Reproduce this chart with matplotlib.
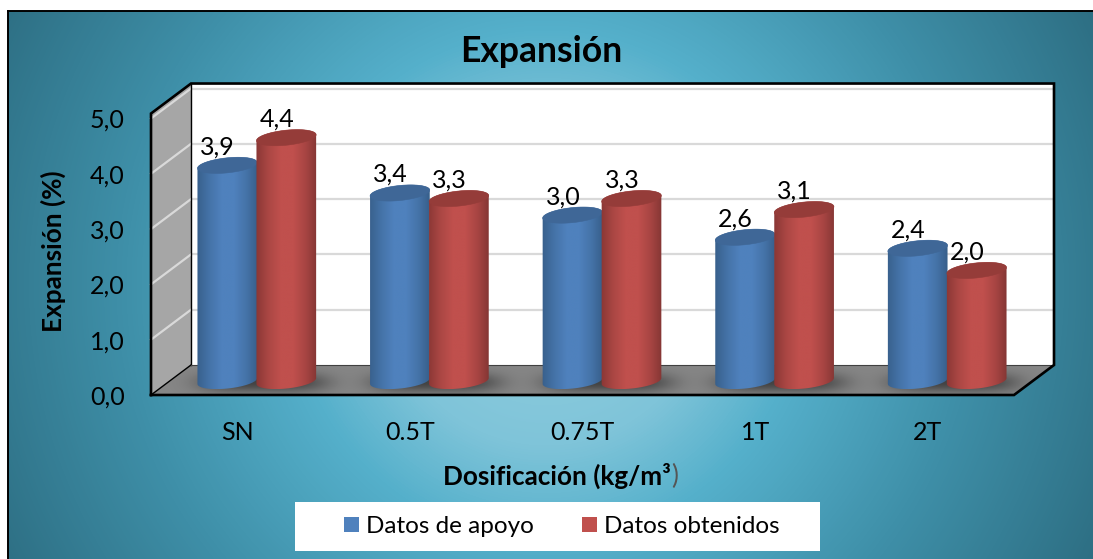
import numpy as np
import matplotlib
matplotlib.use("Agg")
import matplotlib.pyplot as plt
from matplotlib.colors import LinearSegmentedColormap
from matplotlib.patches import Polygon

plt.rcParams['font.family'] = ['Lato', 'DejaVu Sans']

categories = ['SN', '0.5T', '0.75T', '1T', '2T']
datos_apoyo = [3.9, 3.4, 3.0, 2.6, 2.4]
datos_obtenidos = [4.4, 3.3, 3.3, 3.1, 2.0]
y_ticks = [0, 1, 2, 3, 4, 5]

W, H = 1093, 559
fig = plt.figure(figsize=(W / 100, H / 100), dpi=100, facecolor='white')


def frac(x0, y0, x1, y1):
    """Pixel box (origin top-left) to figure fractions."""
    return [x0 / W, 1 - y1 / H, (x1 - x0) / W, (y1 - y0) / H]


# Radial backdrop behind the whole chart
bg = fig.add_axes(frac(8, 11, W, H))
yy, xx = np.mgrid[11:H, 8:W]
dist = np.hypot(xx - 546, yy - 285)
bg_cmap = LinearSegmentedColormap.from_list('bg', [
    (0.0, '#93d0e0'), (160 / 640, '#7fc4d9'), (255 / 640, '#55b0cb'),
    (420 / 640, '#3f90a9'), (1.0, '#2b6a7e')])
bg.imshow(dist / 640, cmap=bg_cmap, vmin=0, vmax=1, aspect='auto')
bg.set_xticks([])
bg.set_yticks([])
for name, spine in bg.spines.items():
    spine.set_linewidth(1.4)
    spine.set_color('black')
    spine.set_visible(name in ('left', 'top'))

# Front plane of the 3D box: one unit of x is a category, one of y is 1 %
ax = fig.add_axes(frac(151, 118.5, 1014, 395))
ax.patch.set_alpha(0)
PX = 863 / 5
PY = 276.5 / 5
dx, dy = 40 / PX, 30 / PY   # box depth
x0, x1 = -0.5, 4.5
ytop = 5.09
series_off = 29.5 / PX
mid_dx, mid_dy = 19.5 / PX, 14 / PY   # cylinders stand mid-depth

# Walls and floor
ax.add_patch(Polygon([(x0 + dx, dy), (x1 + dx, dy), (x1 + dx, ytop + dy), (x0 + dx, ytop + dy)],
                     fc='white', ec='none', zorder=1, clip_on=False))
ax.add_patch(Polygon([(x0, 0), (x0 + dx, dy), (x0 + dx, ytop + dy), (x0, ytop)],
                     fc='#a6a6a6', ec='none', zorder=1, clip_on=False))
floor = Polygon([(x0, 0), (x1, 0), (x1 + dx, dy), (x0 + dx, dy)], fc='#868686', ec='none',
                zorder=1, clip_on=False)
ax.add_patch(floor)

# Gridlines on the back and side walls
for v in y_ticks[1:]:
    ax.plot([x0 + dx, x1 + dx], [v + dy, v + dy], color='#d9d9d9', lw=1.6, zorder=2,
            clip_on=False, solid_capstyle='butt')
    ax.plot([x0, x0 + dx], [v, v + dy], color='#d9d9d9', lw=1.6, zorder=2, clip_on=False)

# Box outline
ax.plot([x0 + dx, x0 + dx], [dy, ytop + dy], color='black', lw=1.0, zorder=3, clip_on=False)
ax.plot([x0, x0 + dx], [0, dy], color='black', lw=1.0, zorder=3, clip_on=False)
ax.plot([x0 + dx, x1 + dx], [dy, dy], color='#404040', lw=0.8, zorder=3, clip_on=False)
ax.plot([x0, x0, x0 + dx, x1 + dx, x1 + dx, x1, x0],
        [0, ytop, ytop + dy, ytop + dy, dy, 0, 0],
        color='black', lw=1.9, zorder=3, clip_on=False, solid_joinstyle='miter')

# Soft shadow pooled on the floor around each pair of cylinders
sx = np.linspace(x0, x1 + dx, 900)
sy = np.linspace(0, dy, 40)
gx, gy = np.meshgrid(sx, sy)
alpha = np.zeros_like(gx)
for i in range(len(categories)):
    alpha += np.exp(-(((gx - (i + mid_dx + 6 / PX)) / (64 / PX)) ** 4
                      + ((gy - mid_dy * 0.9) / (10 / PY)) ** 2))
rgba = np.zeros(gx.shape + (4,))
rgba[..., 3] = np.clip(alpha, 0, 1) * 0.5
shadow = ax.imshow(rgba, extent=(sx[0], sx[-1], 0, dy), origin='lower', aspect='auto',
                   zorder=2.5, interpolation='bilinear')
shadow.set_clip_path(floor)
shadow.set_clip_box(fig.bbox)

A, B, TILT = 30, 7.5, np.radians(6)


def ellipse(cx, cy, t):
    """Tilted ellipse outline, offsets given in pixels, returned in data units."""
    ex = A * np.cos(t) * np.cos(TILT) - B * np.sin(t) * np.sin(TILT)
    ey = A * np.cos(t) * np.sin(TILT) + B * np.sin(t) * np.cos(TILT)
    return cx + ex / PX, cy + ey / PY


def cylinder(cx, value, body, rim, z):
    base = mid_dy
    top = value + mid_dy
    bx, by = ellipse(cx, base, np.linspace(np.pi, 2 * np.pi, 40))
    tx, ty = ellipse(cx, top, np.linspace(0, np.pi, 40))
    outline = Polygon(np.column_stack([np.r_[bx, tx], np.r_[by, ty]]),
                      fc='none', ec='none', zorder=z, clip_on=False)
    ax.add_patch(outline)
    cmap = LinearSegmentedColormap.from_list('body', body)
    grad = np.linspace(0, 1, 128).reshape(1, -1)
    left, right = cx - 1.02 * A / PX, cx + 1.02 * A / PX
    im = ax.imshow(grad, cmap=cmap, extent=(left, right, by.min(), ty.max()),
                   aspect='auto', zorder=z, interpolation='bilinear')
    im.set_clip_path(outline)
    im.set_clip_box(fig.bbox)
    ex, ey = ellipse(cx, top, np.linspace(0, 2 * np.pi, 80))
    ax.add_patch(Polygon(np.column_stack([ex, ey]), fc=rim, ec=rim, lw=0.4, zorder=z + 0.1,
                         clip_on=False))
    ax.text(cx - 9.5 / PX, top + 18.5 / PY, f'{value:.1f}'.replace('.', ','), ha='center',
            va='center', fontsize=18, color='black', zorder=10, clip_on=False)


blue_body = ['#38608c', '#4573a8', '#4f81bd', '#4f81bd', '#4573a8', '#365d88']
red_body = ['#8a3735', '#ab4744', '#c0504d', '#c0504d', '#a84543', '#823533']
for i, value in enumerate(datos_apoyo):
    cylinder(i - series_off + mid_dx, value, blue_body, '#3f6797', 4 + i * 0.01)
for i, value in enumerate(datos_obtenidos):
    cylinder(i + series_off + mid_dx, value, red_body, '#953c39', 5 + i * 0.01)

ax.set_xlim(x0, x1)
ax.set_ylim(0, 5)
ax.set_xticks(range(len(categories)), categories)
ax.set_yticks(y_ticks, [f'{v:.1f}'.replace('.', ',') for v in y_ticks])
ax.tick_params(axis='both', length=0, labelsize=18)
ax.tick_params(axis='x', pad=19)
ax.tick_params(axis='y', pad=19)
for spine in ax.spines.values():
    spine.set_visible(False)

# Titles
fig.text(541 / W, 1 - 51 / H, 'Expansión', ha='center', va='center', fontsize=25.6,
         fontweight='bold', color='black')
fig.text(53 / W, 1 - 251 / H, 'Expansión (%)', ha='center', va='center', rotation=90,
         fontsize=18.8, fontweight='bold', color='black')
xlab = fig.text(443 / W, 1 - 476 / H, 'Dosificación (kg/m³', ha='left', va='center',
                fontsize=18.8, fontweight='bold', color='black')
ax.annotate(')', xy=(1, 0.5), xycoords=xlab, va='center', ha='left', fontsize=18.8,
            color='#555555', annotation_clip=False)

# Legend strip
leg = fig.add_axes(frac(295, 502, 820, 551))
leg.set_xticks([])
leg.set_yticks([])
for spine in leg.spines.values():
    spine.set_visible(False)
handles = [plt.Rectangle((0, 0), 1, 1, fc='#4f81bd'), plt.Rectangle((0, 0), 1, 1, fc='#c0504d')]
leg.legend(handles, ['Datos de apoyo', 'Datos obtenidos'], loc='center',
           bbox_to_anchor=(0.508, 0.5), ncol=2, frameon=False, fontsize=17.5,
           handlelength=0.62, handleheight=0.62, handletextpad=0.3, columnspacing=1.95)

fig.savefig('out.png', dpi=100)
